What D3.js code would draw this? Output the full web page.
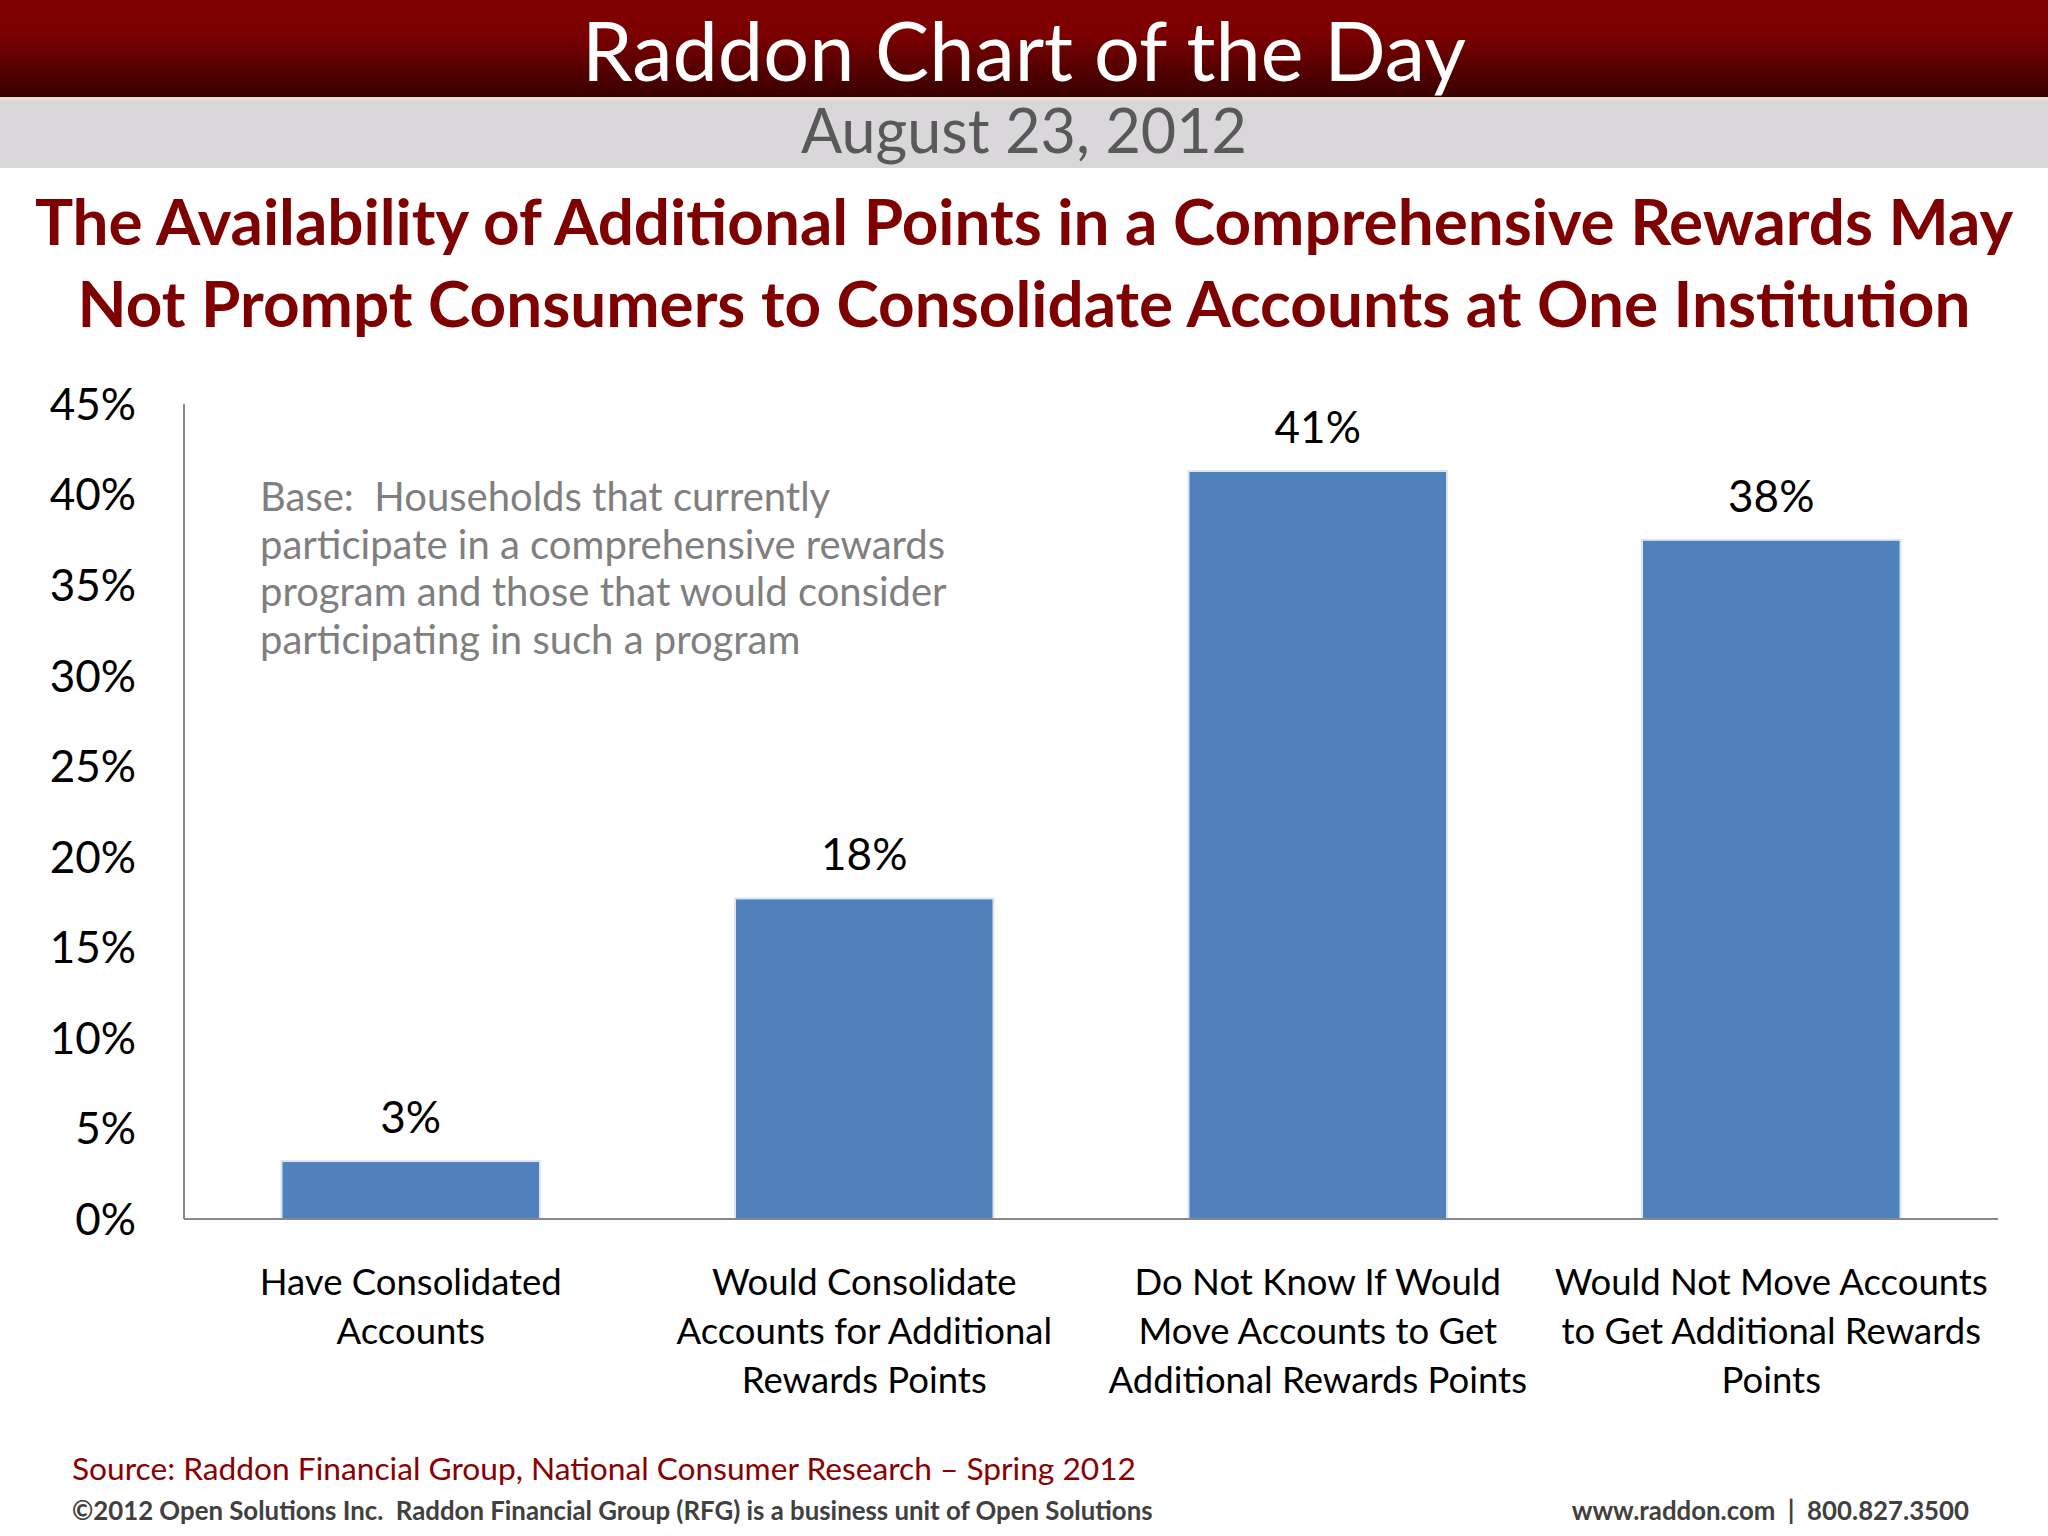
<!DOCTYPE html>
<html lang="en">
<head>
  <meta charset="UTF-8">
  <title>Raddon Chart of the Day</title>
  <script src="https://d3js.org/d3.v7.min.js"></script>
  <style>
    html, body { margin: 0; padding: 0; background: #fff; }
    svg { display: block; font-family: Lato, "Open Sans", sans-serif; }
    text { white-space: pre; }
    .tick-label { font-size: 44px; fill: #000; text-anchor: end; }
    .value-label { font-size: 44px; fill: #000; text-anchor: middle; }
    .cat-label { font-size: 36.5px; fill: #000; text-anchor: middle; }
    .base-note { font-size: 40px; fill: #7f7f7f; }
  </style>
</head>
<body>
<svg width="2048" height="1536"></svg>
<script>
// data
const categories = [
  "Have Consolidated Accounts",
  "Would Consolidate Accounts for Additional Rewards Points",
  "Do Not Know If Would Move Accounts to Get Additional Rewards Points",
  "Would Not Move Accounts to Get Additional Rewards Points"
];
const categoryLines = [
  ["Have Consolidated", "Accounts"],
  ["Would Consolidate", "Accounts for Additional", "Rewards Points"],
  ["Do Not Know If Would", "Move Accounts to Get", "Additional Rewards Points"],
  ["Would Not Move Accounts", "to Get Additional Rewards", "Points"]
];
const values = [3.2, 17.7, 41.3, 37.5];
const valueLabels = ["3%", "18%", "41%", "38%"];
const yTicks = [0, 5, 10, 15, 20, 25, 30, 35, 40, 45];

const titleLines = [
  "The Availability of Additional Points in a Comprehensive Rewards May",
  "Not Prompt Consumers to Consolidate Accounts at One Institution"
];
const baseLines = [
  "Base:  Households that currently",
  "participate in a comprehensive rewards",
  "program and those that would consider",
  "participating in such a program"
];

const svg = d3.select("svg");
const W = 2048;

// ---- header bands
const defs = svg.append("defs");
const grad = defs.append("linearGradient").attr("id", "hdr").attr("x1", 0).attr("y1", 0).attr("x2", 0).attr("y2", 1);
grad.append("stop").attr("offset", "0%").attr("stop-color", "#800000");
grad.append("stop").attr("offset", "35%").attr("stop-color", "#7c0000");
grad.append("stop").attr("offset", "100%").attr("stop-color", "#380000");

svg.append("rect").attr("x", 0).attr("y", 0).attr("width", W).attr("height", 97).attr("fill", "url(#hdr)");
svg.append("rect").attr("x", 0).attr("y", 97).attr("width", W).attr("height", 3).attr("fill", "#e6e1d6");
svg.append("rect").attr("x", 0).attr("y", 100).attr("width", W).attr("height", 68).attr("fill", "#d9d7da");

svg.append("text")
  .attr("x", W / 2).attr("y", 81)
  .attr("text-anchor", "middle")
  .attr("fill", "#fff")
  .style("font-size", "81px")
  .text("Raddon Chart of the Day");

svg.append("text")
  .attr("x", W / 2).attr("y", 153)
  .attr("text-anchor", "middle")
  .attr("fill", "#595959")
  .style("font-size", "61px")
  .text("August 23, 2012");

// ---- chart title
svg.selectAll(".title")
  .data(titleLines)
  .join("text")
  .attr("class", "title")
  .attr("x", W / 2)
  .attr("y", (d, i) => 245 + i * 82)
  .attr("text-anchor", "middle")
  .attr("fill", "#7f0000")
  .style("font-size", "63.8px")
  .style("font-weight", "bold")
  .text(d => d);

// ---- plot
const margin = {left: 184, right: 50, top: 404, bottom: 317};
const plotBottom = 1536 - margin.bottom;

const x = d3.scaleBand()
  .domain(categories)
  .range([margin.left, W - margin.right])
  .paddingInner(0.43)
  .paddingOuter(0.215);

const y = d3.scaleLinear()
  .domain([0, 45])
  .range([plotBottom, margin.top]);

// y tick labels (no tick marks)
svg.selectAll(".tick-label")
  .data(yTicks)
  .join("text")
  .attr("class", "tick-label")
  .attr("x", 136)
  .attr("y", d => y(d))
  .attr("dy", "0.36em")
  .text(d => d + "%");

// base note
svg.selectAll(".base-note")
  .data(baseLines)
  .join("text")
  .attr("class", "base-note")
  .attr("x", 260)
  .attr("y", (d, i) => 511 + i * 47.5)
  .text(d => d);

// bars
svg.selectAll(".bar")
  .data(values)
  .join("rect")
  .attr("class", "bar")
  .attr("x", (d, i) => x(categories[i]))
  .attr("y", d => y(d))
  .attr("width", x.bandwidth())
  .attr("height", d => y(0) - y(d))
  .attr("fill", "#4f81bd")
  .attr("stroke", "#dde5f0")
  .attr("stroke-width", 2);

svg.selectAll(".value-label")
  .data(values)
  .join("text")
  .attr("class", "value-label")
  .attr("x", (d, i) => x(categories[i]) + x.bandwidth() / 2)
  .attr("y", d => y(d) - 28)
  .text((d, i) => valueLabels[i]);

// axis lines
svg.append("line")
  .attr("x1", margin.left).attr("x2", margin.left)
  .attr("y1", margin.top).attr("y2", plotBottom)
  .attr("stroke", "#888").attr("stroke-width", 2);
svg.append("line")
  .attr("x1", margin.left).attr("x2", W - margin.right)
  .attr("y1", plotBottom).attr("y2", plotBottom)
  .attr("stroke", "#888").attr("stroke-width", 2);

// category labels
const cats = svg.selectAll(".cat")
  .data(categoryLines)
  .join("text")
  .attr("class", "cat-label")
  .attr("x", (d, i) => x(categories[i]) + x.bandwidth() / 2)
  .attr("y", 1295);
cats.selectAll("tspan")
  .data(d => d)
  .join("tspan")
  .attr("x", function () { return this.parentNode.getAttribute("x"); })
  .attr("y", (d, i) => 1295 + i * 49)
  .text(d => d);

// ---- footer
svg.append("text")
  .attr("x", 72).attr("y", 1480)
  .attr("fill", "#8b0000")
  .style("font-size", "31.7px")
  .text("Source: Raddon Financial Group, National Consumer Research \u2013 Spring 2012");

svg.append("text")
  .attr("x", 72).attr("y", 1520)
  .attr("fill", "#404040")
  .style("font-size", "25.8px")
  .style("font-weight", "bold")
  .text("\u00a92012 Open Solutions Inc.  Raddon Financial Group (RFG) is a business unit of Open Solutions");

svg.append("text")
  .attr("x", 1969).attr("y", 1520)
  .attr("text-anchor", "end")
  .attr("fill", "#404040")
  .style("font-size", "25.8px")
  .style("font-weight", "bold")
  .text("www.raddon.com  |  800.827.3500");
</script>
</body>
</html>
